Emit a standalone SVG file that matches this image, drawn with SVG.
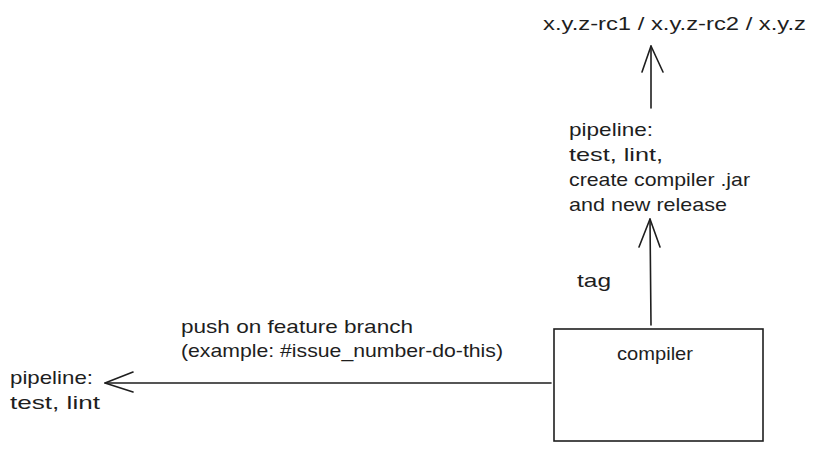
<svg xmlns="http://www.w3.org/2000/svg" width="817" height="452" viewBox="0 0 817 452">
<style>
text{font-family:"Liberation Sans",Arial,sans-serif;font-size:19px;fill:#1e1e1e}
.ln{fill:none;stroke:#1e1e1e;stroke-width:1.6;stroke-linecap:round;stroke-linejoin:round}
.box{fill:#ffffff;stroke:#1e1e1e;stroke-width:1.6}
</style>
<rect width="817" height="452" fill="#ffffff"/>
<g id="connectors">
<g id="arrow-feature">
<path class="ln" d="M551 383 L105 383"/>
<path class="ln" d="M105 383 L133 372 M105 383 L133 392"/>
</g>
<g id="arrow-tag">
<path class="ln" d="M651 325 L650 219"/>
<path class="ln" d="M650 219 L639 247 M650 219 L660 247"/>
</g>
<g id="arrow-release">
<path class="ln" d="M651 108 L651 46"/>
<path class="ln" d="M651 46 L642 72 M651 46 L663 72"/>
</g>
</g>
<g id="node-compiler">
<rect class="box" x="554" y="329" width="209" height="112"/>
<text x="617" y="360" textLength="76" lengthAdjust="spacingAndGlyphs">compiler</text>
</g>
<g id="node-versions">
<text x="543" y="30" textLength="263" lengthAdjust="spacingAndGlyphs">x.y.z-rc1 / x.y.z-rc2 / x.y.z</text>
</g>
<g id="node-release-pipeline">
<text x="569" y="136" textLength="84" lengthAdjust="spacingAndGlyphs">pipeline:</text>
<text x="569" y="161" textLength="94" lengthAdjust="spacingAndGlyphs">test, lint,</text>
<text x="569" y="186" textLength="181" lengthAdjust="spacingAndGlyphs">create compiler .jar</text>
<text x="569" y="211" textLength="158" lengthAdjust="spacingAndGlyphs">and new release</text>
</g>
<g id="label-tag">
<text x="577" y="287" textLength="34" lengthAdjust="spacingAndGlyphs">tag</text>
</g>
<g id="label-push">
<text x="181" y="333" textLength="232" lengthAdjust="spacingAndGlyphs">push on feature branch</text>
<text x="181" y="357" textLength="322" lengthAdjust="spacingAndGlyphs">(example: #issue_number-do-this)</text>
</g>
<g id="node-feature-pipeline">
<text x="10" y="384" textLength="83" lengthAdjust="spacingAndGlyphs">pipeline:</text>
<text x="10" y="409" textLength="90" lengthAdjust="spacingAndGlyphs">test, lint</text>
</g>
</svg>
